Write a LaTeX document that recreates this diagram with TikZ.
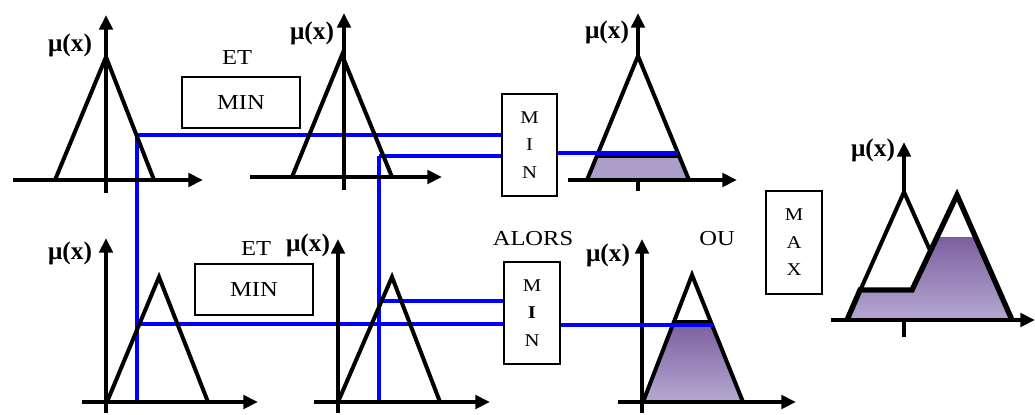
\documentclass[tikz,border=0pt]{standalone}
\usepackage{fontspec}
\setmainfont{Liberation Serif}
\newfontfamily\gfont{Liberation Serif}[FakeStretch=1.15]
\usetikzlibrary{arrows.meta}
\definecolor{blu}{RGB}{0,0,255}
\definecolor{lav}{RGB}{173,158,201}
\definecolor{pdark}{RGB}{124,96,158}
\definecolor{plight}{RGB}{182,168,210}
\begin{document}
\begin{tikzpicture}[x=0.75pt,y=-0.75pt,
  axis/.style={line width=3.2pt,-{Triangle[length=11pt,width=10pt]}},
  tri/.style={line width=3pt,line join=miter},
  thicktri/.style={line width=4pt,line join=miter},
  link/.style={blu,line width=3pt},
  opbox/.style={draw,line width=1.3pt,inner sep=0pt},
  lbl/.style={font=\gfont\fontsize{16}{19}\selectfont},
  vlbl/.style={font=\gfont\fontsize{13.5}{20.6}\selectfont,align=center},
  mu/.style={font=\bfseries\fontsize{19}{21}\selectfont,inner sep=0pt}
]
\useasboundingbox (0,0) rectangle (1035,414);

% ---------- operator boxes and words ----------
\node[lbl] (et1) at (237,58) {ET};
\node[opbox,lbl,minimum width=88.5pt,minimum height=38.25pt] (minT) at (241,102.5) {MIN};
\node[lbl] (et2) at (256,249) {ET};
\node[opbox,lbl,minimum width=88.5pt,minimum height=38.25pt] (minL) at (254,289.5) {MIN};
\node[opbox,vlbl,minimum width=41.25pt,minimum height=76.5pt] (minA) at (529.5,145) {M\\I\\N};
\node[lbl] (alors) at (533,239) {ALORS};
\node[opbox,vlbl,minimum width=42pt,minimum height=76.5pt] (minB) at (532,313) {M\\\textbf{I}\\N};
\node[lbl] (ou) at (717,239) {OU};
\node[opbox,vlbl,minimum width=42pt,minimum height=77.25pt] (maxC) at (794,242.5) {M\\A\\X};

% ---------- blue links (under the graphs) ----------
\coordinate (g1hit) at (137,135);
\coordinate (g1foot) at (137,402);
\coordinate (g4hit) at (137,324);
\coordinate (g2hit) at (379,156);
\coordinate (g2foot) at (379,402);
\coordinate (g5hit) at (379,301);
\draw[link] (g1hit) -- (g1hit -| minA.west);
\draw[link] (g1hit) -- (g1foot);
\draw[link] (g4hit) -- (g4hit -| minB.west);
\draw[link] (g2hit) -- (g2hit -| minA.west);
\draw[link] (g2hit) -- (g2foot);
\draw[link] (g5hit) -- (g5hit -| minB.west);

% ---------- graph 1 ----------
\draw[axis] (106,193) -- (106,15);
\draw[tri] (55,180) -- (106,57) -- (154,180);
\draw[axis] (13,180) -- (203,180);
\node[mu] (mu1) at (70,45) {μ(x)};

% ---------- graph 2 ----------
\draw[axis] (344,190) -- (344,13);
\draw[tri] (292,177) -- (342,55) -- (392,177);
\draw[axis] (250,177) -- (442,177);
\node[mu] (mu2) at (312,33) {μ(x)};

% ---------- graph 3 ----------
\draw[axis] (638,191) -- (638,13);
\fill[white] (587,180) -- (638,56) -- (689,180) -- cycle;
\fill[lav] (587,180) -- (597,156) -- (679,156) -- (689,180) -- cycle;
\draw[tri] (597,156) -- (679,156);
\draw[tri] (587,180) -- (638,56) -- (689,180);
\draw[axis] (568,180) -- (737,180);
\node[mu] (mu3) at (607,32) {μ(x)};

% ---------- graph 4 ----------
\draw[axis] (106,413) -- (106,238);
\draw[tri] (107,402) -- (159,277) -- (208,402);
\draw[axis] (82,402) -- (258,402);
\node[mu] (mu4) at (70,253) {μ(x)};

% ---------- graph 5 ----------
\draw[axis] (338,413) -- (338,239);
\draw[tri] (338,402) -- (392,277) -- (440,402);
\draw[axis] (314,402) -- (490,402);
\node[mu] (mu5) at (308,245) {μ(x)};

% ---------- graph 6 ----------
\draw[axis] (642,413) -- (642,239);
\fill[white] (643,402) -- (692,275) -- (743,402) -- cycle;
\shade[top color=pdark,bottom color=plight] (643,402) -- (673,323) -- (712,323) -- (743,402) -- cycle;
\draw[tri] (673,322) -- (712,322);
\draw[tri] (643,402) -- (692,275) -- (743,402);
\draw[axis] (618,402) -- (796,402);
\node[mu] (mu6) at (608,255) {μ(x)};

% ---------- graph 7 (aggregation) ----------
\draw[axis] (904,337) -- (904,142);
\fill[white] (847,320) -- (904,192) -- (961,320) -- cycle;
\draw[tri] (847,320) -- (904,192) -- (961,320);
\fill[white] (898,320) -- (957,195) -- (1012,320) -- cycle;
\shade[top color=pdark,bottom color=plight] (847,320) -- (860,290) -- (912,290) -- (937,237) -- (975,237) -- (1012,320) -- cycle;
\draw[thicktri] (847,320) -- (860,290) -- (912,290) -- (957,195) -- (1012,320);
\draw[axis] (831,320) -- (1035,320);
\node[mu] (mu7) at (873,150) {μ(x)};

% ---------- output links ----------
\coordinate (g3cut) at (678,153);
\coordinate (g6cut) at (713,324.5);
\draw[link] (minA.east |- g3cut) -- (g3cut);
\draw[link] (minB.east |- g6cut) -- (g6cut);
\end{tikzpicture}
\end{document}
